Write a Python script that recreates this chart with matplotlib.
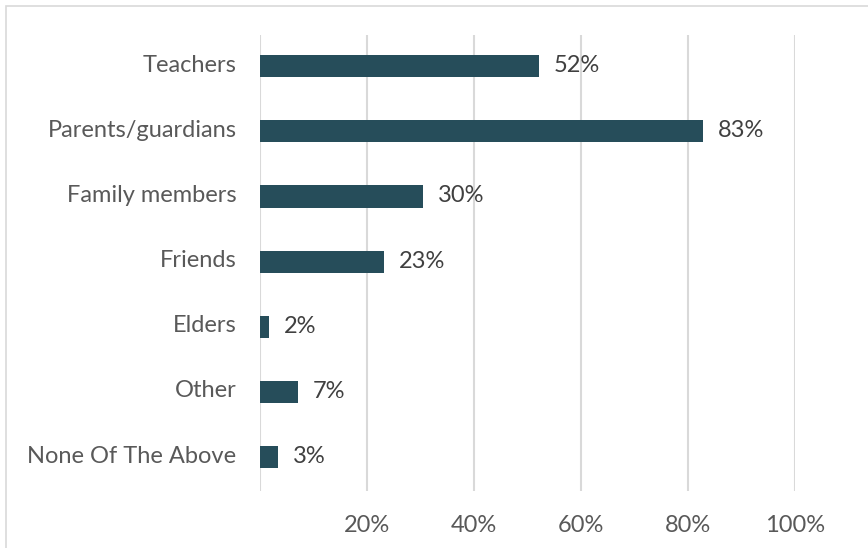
import matplotlib
matplotlib.use("Agg")
import matplotlib.pyplot as plt
from matplotlib.patches import Rectangle
from matplotlib.transforms import ScaledTranslation

categories = ["Teachers", "Parents/guardians", "Family members", "Friends",
              "Elders", "Other", "None Of The Above"]
values = [52.1, 82.8, 30.4, 23.2, 1.6, 7.1, 3.4]
xticks = [0, 20, 40, 60, 80, 100]
xtick_labels = ["", "20%", "40%", "60%", "80%", "100%"]

plt.rcParams['font.family'] = ['Lato', 'DejaVu Sans']

fig = plt.figure(figsize=(8.68, 5.48), dpi=100)
ax = fig.add_axes([260 / 868, 57 / 548, 535 / 868, 456 / 548])

ypos = list(range(len(categories)))[::-1]
ax.barh(ypos, values, height=0.34, color="#264d5a", zorder=3)
for y, v in zip(ypos, values):
    ax.text(v + 2.8, y + 0.01, f"{v:.0f}%", va="center", ha="left",
            fontsize=17, color="#404040")

ax.set_xlim(0, 100)
ax.set_ylim(-0.52, 6.48)
ax.set_yticks(ypos)
ax.set_yticklabels(categories, fontsize=17, color="#595959")
ax.set_xticks(xticks)
ax.set_xticklabels(xtick_labels, fontsize=17, color="#595959")
ax.tick_params(axis="both", length=0)
ax.tick_params(axis="y", pad=17)
ax.tick_params(axis="x", pad=17)
ax.xaxis.grid(True, color="#d9d9d9", linewidth=1.5, zorder=0)
for s in ax.spines.values():
    s.set_visible(False)

# nudge category labels up a little, as in the original
shift = ScaledTranslation(0, 3 / 100, fig.dpi_scale_trans)
for lbl in ax.get_yticklabels():
    lbl.set_transform(lbl.get_transform() + shift)

# outer chart border
fig.patches.append(Rectangle((6 / 868, -0.1), 1.2, 1.1 - 6 / 548,
                             transform=fig.transFigure, fill=False,
                             edgecolor="#d9d9d9", linewidth=1.2))

fig.savefig("out.png", dpi=100)
